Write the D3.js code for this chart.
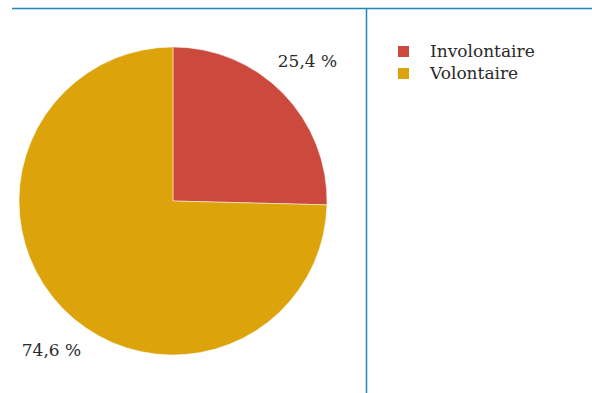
<!DOCTYPE html>
<html><head><meta charset="utf-8">
<script src="https://cdn.jsdelivr.net/npm/d3@7"></script>
<style>body{margin:0;background:#fff}svg{display:block}</style>
</head><body>
<script>
const categories = ["Involontaire", "Volontaire"];
const values = [25.4, 74.6];
const labels = ["25,4 %", "74,6 %"];
const colors = ["#cc4a3d", "#dca30b"];

const W = 592, H = 393;
const svg = d3.select("body").append("svg").attr("width", W).attr("height", H);
const font = "'DejaVu Serif', serif";

svg.append("line").attr("x1", 12).attr("x2", W).attr("y1", 8.5).attr("y2", 8.5)
  .attr("stroke", "#1f87bd").attr("stroke-width", 1.5);
svg.append("line").attr("x1", 366.5).attr("x2", 366.5).attr("y1", 8).attr("y2", H)
  .attr("stroke", "#1f87bd").attr("stroke-width", 1.5);

const cx = 173, cy = 201, r = 154;
const pie = d3.pie().sort(null).value(d => d)(values);
const arc = d3.arc().innerRadius(0).outerRadius(r);
const g = svg.append("g").attr("transform", `translate(${cx},${cy})`);
g.selectAll("path").data(pie).join("path")
  .attr("d", arc).attr("fill", (d, i) => colors[i])
  .attr("stroke", "#fff").attr("stroke-width", 0.5);

const labelPos = [[307.5, 67], [51.5, 356]];
svg.selectAll("text.lbl").data(labels).join("text").attr("class", "lbl")
  .attr("x", (d, i) => labelPos[i][0]).attr("y", (d, i) => labelPos[i][1])
  .attr("text-anchor", "middle").attr("font-family", font).attr("font-size", 17)
  .attr("fill", "#2a2a2a").text(d => d);

const leg = svg.append("g").attr("transform", "translate(398,46)");
const items = leg.selectAll("g").data(categories).join("g")
  .attr("transform", (d, i) => `translate(0,${i * 22})`);
items.append("rect").attr("width", 11).attr("height", 11).attr("fill", (d, i) => colors[i]);
items.append("text").attr("x", 32).attr("y", 11).attr("font-family", font)
  .attr("font-size", 17).attr("fill", "#2a2a2a").text(d => d);
</script>
</body></html>
